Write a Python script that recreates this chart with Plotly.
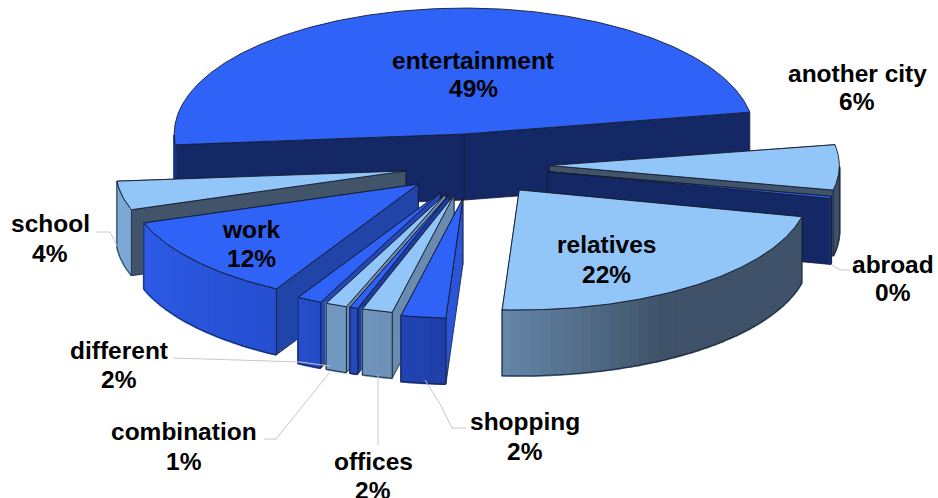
import numpy as np
import plotly.graph_objects as go

# ---- data, clockwise from entertainment's far edge ----
categories = ["another city", "abroad", "relatives", "shopping", "offices", "unlabelled",
              "combination", "different", "work", "school", "entertainment"]
shares = [6.1, 0.3, 22.5, 2.5, 1.7, 0.45, 1.2, 1.4, 11.7, 3.9, 48.9]
label_names = ["entertainment", "another city", "abroad", "relatives", "shopping",
               "offices", "combination", "different", "work", "school"]
label_values = ["49%", "6%", "0%", "22%", "2%", "2%", "1%", "2%", "12%", "4%"]

# ---- layout and styling ----
W, H = 938, 498
CX, CY, RX, RY, DEPTH = 474, 165, 290, 120, 66
START_ANGLE = 80
EXPLODE = {"school": 0.24, "work": 0.25, "shopping": 0.28}
DEFAULT_EXPLODE = 0.26
RY_SCALE = {"entertainment": 1.05}
BLUE, LIGHT = "#2F62F6", "#92C5F8"
EDGE = "#141c30"
top_color = {"another city": LIGHT, "abroad": BLUE, "relatives": LIGHT, "shopping": BLUE,
             "offices": LIGHT, "unlabelled": BLUE, "combination": LIGHT, "different": BLUE,
             "work": BLUE, "school": LIGHT, "entertainment": BLUE}
face_color = {"another city": "#41546A", "abroad": "#142866", "relatives": "#41546A",
              "shopping": "#2A55D8", "offices": "#6B8BAE", "unlabelled": "#1E3C9E",
              "combination": "#6B8BAE", "different": "#2448B8", "work": "#2144A8",
              "school": "#41546A", "entertainment": "#142866"}
wall_stops_blue = ([183, 210, 252], [(0x20, 0x40, 0xA8), (0x26, 0x50, 0xD0), (0x2E, 0x5C, 0xE8)])
wall_stops_light = ([100, 150, 183, 199, 266],
                    [(0x3F, 0x52, 0x69), (0x40, 0x53, 0x6A), (0x66, 0x88, 0xAB), (0x72, 0x97, 0xBF), (0x80, 0xAC, 0xD8)])
# paint order: far slices first
draw_order = ["entertainment", "another city", "abroad", "relatives", "school", "work",
              "different", "combination", "unlabelled", "offices", "shopping"]
label_pos = {"entertainment": (473, 60, 88), "another city": (857, 73, 101), "abroad": (893, 264, 292),
             "relatives": (606, 244, 274), "work": (251, 229, 258), "school": (50, 223, 253),
             "different": (119, 350, 379), "combination": (184, 431, 461), "offices": (373, 461, 490),
             "shopping": (525, 421, 451)}
leaders = [([96, 110, 117], [232, 232, 246]), ([173, 300, 330], [358, 362, 366]),
           ([264, 276, 330], [439, 439, 372]), ([378, 378], [375, 445]),
           ([425, 440, 452, 466], [380, 404, 428, 428]), ([832, 840, 850], [265, 270, 270])]


def project(theta, radius, ax, ay, yscale=1.0):
    t = np.radians(theta)
    return ax + radius * RX * np.sin(t), ay - radius * RY * yscale * np.cos(t)


def wall_colour(name, theta):
    xs, cols = wall_stops_light if top_color[name] == LIGHT else wall_stops_blue
    rgb = [np.interp(theta, xs, [c[i] for c in cols]) for i in range(3)]
    return "rgb(%d,%d,%d)" % tuple(rgb)


fig = go.Figure()


def poly(xs, ys, fill, line=None, width=1.0):
    fig.add_trace(go.Scatter(x=list(xs), y=list(ys), mode="lines", fill="toself", fillcolor=fill,
                             line=dict(color=line or fill, width=width), hoverinfo="skip", showlegend=False))


# angular spans from the shares, scaled to a full turn
total = sum(shares)
spans = {}
a = START_ANGLE
for name, v in zip(categories, shares):
    spans[name] = (a, a + v / total * 360)
    a += v / total * 360

for name in draw_order:
    a0, a1 = spans[name]
    mid = (a0 + a1) / 2
    e = EXPLODE.get(name, DEFAULT_EXPLODE)
    ys = RY_SCALE.get(name, 1.0)
    ax, ay = project(mid, e, CX, CY)
    arc = np.linspace(a0, a1, max(4, int((a1 - a0) * 2)))
    ox, oy = project(arc, 1.0, ax, ay, ys)

    # radial faces: the one lying further back goes first
    faces = sorted([a0, a1], key=lambda th: -np.cos(np.radians(th)))
    for th in faces:
        px, py = project(th, 1.0, ax, ay, ys)
        poly([ax, px, px, ax, ax], [ay, py, py + DEPTH, ay + DEPTH, ay], face_color[name], EDGE, 0.8)

    # outer wall, front half only, shaded along the arc
    front = arc[(np.mod(arc, 360) > 90) & (np.mod(arc, 360) < 270)]
    if len(front) > 1:
        fx, fy = project(front, 1.0, ax, ay, ys)
        step = max(1, len(front) // 40)
        for i in range(0, len(front) - 1, step):
            j = min(i + step, len(front) - 1)
            sx, sy = fx[i:j + 1], fy[i:j + 1]
            poly(list(sx) + list(sx[::-1]), list(sy) + list(sy[::-1] + DEPTH),
                 wall_colour(name, float(np.mod(front[i], 360))), None, 2.0)
        fig.add_trace(go.Scatter(x=list(fx) + [fx[-1]] + list(fx[::-1]) + [fx[0], fx[0]],
                                 y=list(fy) + [fy[-1] + DEPTH] + list(fy[::-1] + DEPTH) + [fy[0] + DEPTH, fy[0]],
                                 mode="lines", line=dict(color=EDGE, width=0.8),
                                 hoverinfo="skip", showlegend=False))

    # top face
    poly([ax] + list(ox) + [ax], [ay] + list(oy) + [ay], top_color[name], EDGE, 0.9)

for lx, ly in leaders:
    fig.add_trace(go.Scatter(x=lx, y=ly, mode="lines", line=dict(color="#c8c8c8", width=1),
                             hoverinfo="skip", showlegend=False))

for name, val in zip(label_names, label_values):
    x, y1, y2 = label_pos[name]
    for text, y in ((name, y1), (val, y2)):
        fig.add_annotation(x=x, y=y, text="<b>%s</b>" % text, showarrow=False, xanchor="center", yanchor="middle",
                           font=dict(family="Liberation Sans", size=24.5, color="#000000"))

fig.update_layout(
    width=W, height=H, margin=dict(l=0, r=0, t=0, b=0), paper_bgcolor="white", plot_bgcolor="white",
    xaxis=dict(range=[0, W], visible=False, fixedrange=True),
    yaxis=dict(range=[H, 0], visible=False, fixedrange=True),
    showlegend=False,
    font=dict(family="Liberation Sans"),
)
fig.write_html("out.html", config={"displayModeBar": False},
               post_script="document.body.style.margin='0';")
